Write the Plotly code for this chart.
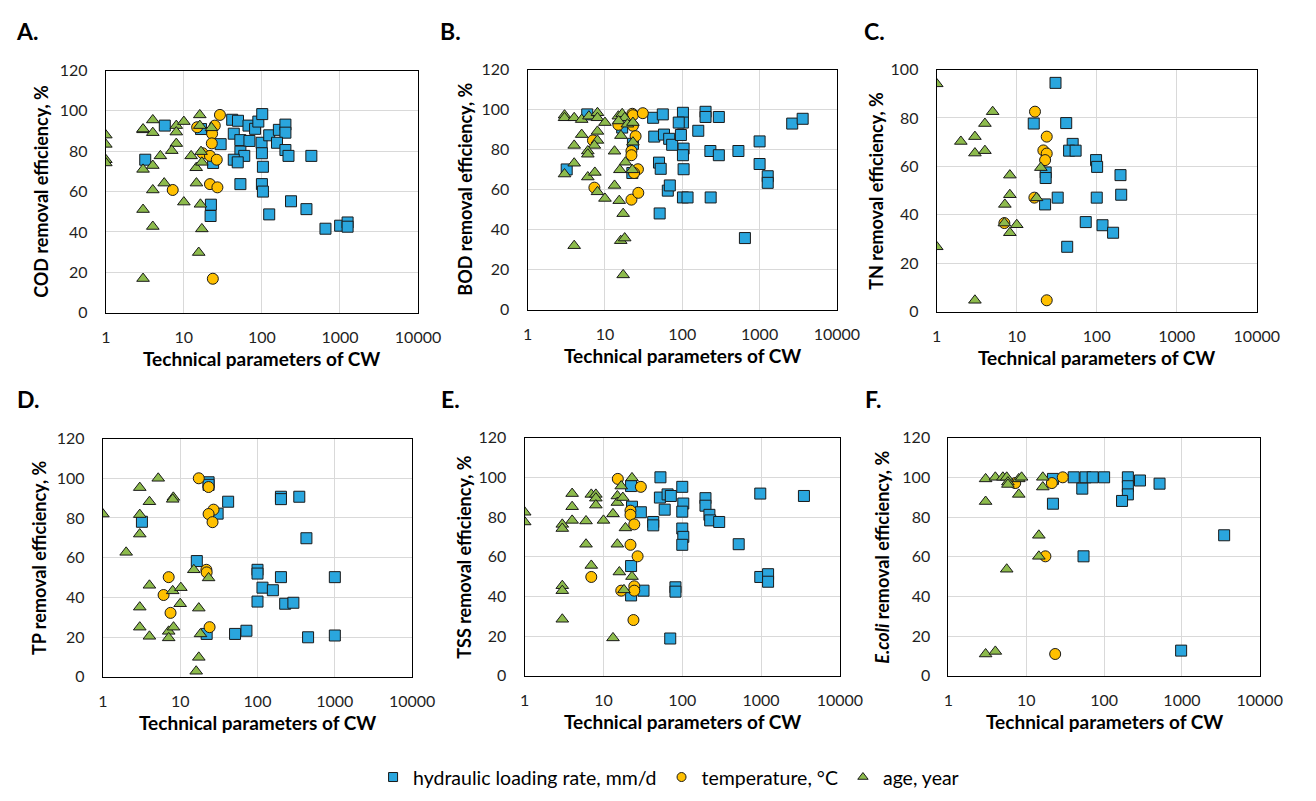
import plotly.graph_objects as go

# ---------------- data ----------------
tick_vals = [1, 10, 100, 1000, 10000]
tick_text = ["1", "10", "100", "1000", "10000"]
series_names = ["hydraulic loading rate, mm/d", "temperature, °C", "age, year"]

# Panel A - COD
A_hlr_x = [5.7, 3.2, 29.6, 23.7, 16.6, 41.6, 49.4, 43.6, 67.3, 81.7, 90, 101, 52.9, 69.2, 99, 53, 59.4, 100, 43.6, 49,
           103, 124, 165, 200, 200, 156, 200, 219, 430, 53, 100, 103, 22.2, 22, 124, 236, 372, 652, 1005, 1253, 1253]
A_hlr_y = [92.7, 75.8, 83.5, 74.2, 91, 95.6, 95.1, 88.7, 92.7, 91.1, 94.7, 98.4, 85.5, 85.1, 84.2, 79.8, 77.7, 79, 75.8, 74.5,
           72.3, 87.9, 90.6, 93.2, 89.2, 84.2, 80.6, 77.7, 77.7, 63.7, 63.7, 60, 53.5, 47.9, 48.7, 55.2, 51.3, 41.6, 43.1, 44.7, 42.6]
A_temp_x = [29, 14.8, 24.9, 23, 22.8, 17.4, 21.6, 26.4, 7.2, 21.6, 26.9, 23.5]
A_temp_y = [98, 91.9, 92.7, 88.7, 83.9, 79, 77.7, 75.8, 60.8, 63.7, 62.1, 16.8]
A_age_x = [1, 1, 1, 1, 3, 3, 4, 4, 3, 4, 5, 8, 8, 10, 8, 7, 16, 16, 12.4, 14.4, 16.6, 17, 22.6,
           5.6, 4, 14.5, 10, 16.3, 3, 4, 17, 15.5, 3]
A_age_y = [88, 83.4, 75.8, 74.2, 90.6, 91, 95.5, 89.2, 71, 72.9, 77.7, 92.7, 89.5, 94.7, 83.8, 80.3, 98, 92.7, 77.7, 71.8, 79.8, 74.5, 91.6,
           64.2, 60.8, 64.2, 54.8, 53.7, 51.1, 42.7, 41.5, 29.8, 16.9]

# Panel B - BOD
B_hlr_x = [3.2, 5.9, 16.7, 23, 22.6, 42, 56, 43.4, 58, 67.7, 74, 102, 102, 90, 96, 104, 102, 50, 52.6, 104,
           161, 200, 200, 297, 231, 297, 532, 1000, 1000, 1274, 1274, 2642, 3606, 65, 69, 102, 117, 233, 51, 646]
B_hlr_y = [70.1, 97.6, 91, 82.9, 68.3, 95.9, 97.6, 86.5, 87.5, 85.4, 82.4, 98.4, 93.5, 93.5, 87.3, 80.5, 77.2, 73.5, 70.4, 70.2,
           89.4, 98.9, 96.3, 96.3, 79.3, 77.2, 79.3, 84.1, 72.8, 66.7, 63.4, 93, 95.4, 59.5, 62.1, 56.1, 56.1, 56.1, 48.1, 35.8]
B_temp_x = [22.6, 23, 30.9, 14.9, 23, 24.9, 7, 22, 22, 26.7, 23.8, 7.3, 22, 27]
B_temp_y = [97.9, 97.2, 98.2, 92.4, 91.9, 86.7, 84.6, 79.3, 77.2, 70.2, 68.3, 61, 55, 58.4]
B_age_x = [3, 3, 4, 5, 6.2, 8, 8, 10, 14.9, 16.7, 18, 15, 19.5, 23, 5, 8, 8, 4, 7.3, 6, 6, 13.3, 16.1, 23,
           4, 3, 6, 7.4, 18.4, 15.6, 22.6, 8, 10, 13.3, 15.3, 17.2, 4, 16, 18, 17.2]
B_age_y = [97.2, 95.9, 95.9, 95, 96.7, 98.4, 95.9, 93.5, 96.7, 97.9, 95.9, 94.3, 92.7, 93.5, 87.5, 89.1, 84.6, 82.1, 82.1, 79.3, 77.7, 79.2, 87, 83.7,
           73.2, 67.8, 66.3, 68.6, 73.7, 69.9, 69.9, 58.9, 55.6, 62.1, 54.5, 48, 32, 34.5, 35.8, 17.4]

# Panel C - TN
C_hlr_x = [30.5, 16.3, 41.5, 50, 45.1, 54.4, 98, 101, 198, 23, 23, 22.6, 32.5, 100, 202, 72.8, 118, 160, 42.7]
C_hlr_y = [94.5, 77.7, 77.9, 69.3, 66.5, 66.5, 62.6, 59.8, 56.4, 57.5, 55.2, 44.3, 47.1, 47.1, 48.3, 37, 35.7, 32.6, 26.8]
C_temp_x = [16.9, 23.7, 21.5, 23.7, 22.6, 16.6, 7, 23.7]
C_temp_y = [82.6, 72.3, 66.6, 65.3, 62.6, 47.1, 36.6, 4.7]
C_age_x = [1, 2, 3, 3, 4, 4, 5, 8.2, 20, 7.1, 8.2, 7, 8.2, 10, 17.7, 1, 3]
C_age_y = [94.1, 70.3, 72.3, 65.5, 77.7, 66.5, 82.6, 56.4, 59.5, 44.3, 48.3, 36.6, 32.6, 35.9, 47, 26.8, 4.7]

# Panel D - TP
D_hlr_x = [3.2, 23.3, 23.3, 30.5, 41.7, 16.4, 22, 51.2, 71.9, 100, 100, 100, 116, 158, 201, 201, 201, 228, 291, 347, 429, 451, 1000, 1000]
D_hlr_y = [78.1, 98, 96.7, 82.2, 88.2, 58.3, 21.6, 21.6, 23.2, 53.9, 52, 37.9, 44.9, 43.6, 90.7, 89.5, 50.2, 36.8, 37.3, 90.7, 69.8, 19.9, 50.2, 20.8]
D_temp_x = [17.4, 23.3, 27, 23.3, 26.2, 21.8, 22, 7.1, 6.1, 7.5, 24]
D_temp_y = [100, 95.6, 84.2, 82, 77.9, 53.9, 52.6, 50.2, 41.2, 32.2, 25]
D_age_x = [1, 2, 3, 3, 3, 3, 3, 4, 4, 4, 5.2, 8.15, 8, 8, 10.2, 10, 7.1, 7.1, 8.2, 15, 23.3, 17.4, 18.3, 17.4, 16.1]
D_age_y = [82, 62.7, 95.3, 81.7, 71.9, 35.1, 25, 88.2, 46.1, 20.4, 100, 90.4, 89.4, 43.3, 44.9, 36.8, 22.9, 19.6, 25, 53.9, 49.8, 34.6, 21.6, 9.8, 2.8]

# Panel E - TSS
E_hlr_x = [22.4, 23, 29.8, 22.4, 22.4, 32.2, 42.8, 42.8, 52.8, 52, 65.1, 71.6, 59.8, 81.9, 82, 70.3, 100, 103, 100, 100,
           103, 100, 197, 197, 221, 226, 294, 520, 977, 977, 1228, 1228, 3500]
E_hlr_y = [95.6, 85.2, 82.4, 55.3, 40.5, 42.9, 77.5, 75.8, 100, 89.8, 91.4, 90.6, 83.7, 44.6, 42.4, 18.8, 95.2, 86.8, 82.7, 74.2,
           70, 66, 89.5, 85.7, 81.1, 78.3, 77.5, 66.3, 91.8, 49.8, 51.2, 47.4, 90.6]
E_temp_x = [15.2, 29.8, 22, 22, 24.6, 22, 27.1, 7, 16.8, 24.6, 24.6, 24]
E_temp_y = [99.2, 95.2, 83.2, 81.1, 76.3, 66, 60.2, 49.8, 42.9, 45.1, 42.9, 28.1]
E_age_x = [1, 1, 3, 3, 4, 4, 4, 6, 6, 7, 8, 8, 8, 7, 10, 13.2, 15, 15, 16.8, 17.6, 23, 19, 15, 15.9, 23, 18.2, 3, 3, 3, 13.2]
E_age_y = [82.4, 77.5, 76.3, 74.2, 91.8, 85.2, 78.3, 78, 66.3, 91.4, 91.4, 89.5, 86, 55.6, 78.3, 81.6, 90.6, 87.3, 95.6, 89.8,
           99.7, 74.5, 66.3, 52.3, 50, 43.3, 45.4, 42.9, 28.5, 19.1]

# Panel F - E.coli
F_hlr_x = [22, 22, 40.7, 57.7, 71.3, 100, 52.4, 54.4, 202, 202, 202, 170, 289, 516, 3490, 977]
F_hlr_y = [99.2, 86.7, 100, 100, 100, 100, 94.3, 60.2, 100, 95.5, 91.4, 88.1, 98.4, 96.8, 70.8, 12.7]
F_temp_x = [7.2, 21.3, 29.4, 17.6, 23.5]
F_temp_y = [97.1, 97.1, 100, 60.2, 11]
F_age_x = [3, 3, 4, 5, 5.6, 5.8, 5.8, 8, 8.7, 8, 16.3, 16.3, 14.5, 14.5, 5.6, 3, 4]
F_age_y = [99.2, 87.8, 100, 100, 100, 97.6, 96.4, 99.2, 100, 91.4, 100, 95.1, 70.8, 60.2, 53.7, 11, 12.3]

panel_letters = ["A.", "B.", "C.", "D.", "E.", "F."]
y_titles = ["COD removal efficiency, %", "BOD removal efficiency, %", "TN removal efficiency, %",
            "TP removal efficiency, %", "TSS removal efficiency, %", "<i>E.coli</i> removal efficiency, %"]
x_title = "Technical parameters of CW"
y_max = [120, 120, 100, 120, 120, 120]

panel_data = [
    (A_hlr_x, A_hlr_y, A_temp_x, A_temp_y, A_age_x, A_age_y),
    (B_hlr_x, B_hlr_y, B_temp_x, B_temp_y, B_age_x, B_age_y),
    (C_hlr_x, C_hlr_y, C_temp_x, C_temp_y, C_age_x, C_age_y),
    (D_hlr_x, D_hlr_y, D_temp_x, D_temp_y, D_age_x, D_age_y),
    (E_hlr_x, E_hlr_y, E_temp_x, E_temp_y, E_age_x, E_age_y),
    (F_hlr_x, F_hlr_y, F_temp_x, F_temp_y, F_age_x, F_age_y),
]

# ---------------- layout geometry (pixels) ----------------
W, H = 1316, 801
# plot areas: (left, right, top, bottom)
areas = [(103, 422, 62, 310), (534, 850, 61, 307), (952, 1279, 61, 309),
         (100, 416, 439, 683), (531, 853, 438, 682), (964, 1282, 438, 682)]
letter_pos = [(9, 21), (442, 21), (876, 21), (10, 398), (443, 398), (877, 398)]
ytitle_x = [36, 470, 890, 34, 469, 896]
xtitle_gap = 47

FONT = "Lato, 'Open Sans', Arial, sans-serif"
BLUE, YELLOW, GREEN = "#2AA6DE", "#FFC000", "#8DBB4C"
styles = [("square", BLUE, 11), ("circle", YELLOW, 11), ("triangle-up", GREEN, 11)]


def px(x):
    return x / W


def py(y):
    return 1 - y / H


fig = go.Figure()
annotations = []
for i, data in enumerate(panel_data):
    k = "" if i == 0 else str(i + 1)
    xa, ya = "x" + k, "y" + k
    for s in range(3):
        sym, col, size = styles[s]
        fig.add_trace(go.Scatter(
            x=data[2 * s], y=data[2 * s + 1], mode="markers", xaxis=xa, yaxis=ya,
            marker=dict(symbol=sym, color=col, size=size, line=dict(color="#1a1a1a", width=1)),
            showlegend=False, name=series_names[s], hoverinfo="x+y"))
    l, r, t, b = areas[i]
    common = dict(showgrid=True, gridcolor="#D9D9D9", gridwidth=1, showline=True, linecolor="black",
                  linewidth=1.2, mirror=True, ticks="", zeroline=False,
                  tickfont=dict(family=FONT, size=16, color="#1f1f1f"))
    fig.layout["xaxis" + k] = dict(domain=[px(l), px(r)], anchor=ya, type="log", range=[0, 4],
                                   tickvals=tick_vals, ticktext=tick_text, ticklabelstandoff=10, **common)
    fig.layout["yaxis" + k] = dict(domain=[py(b), py(t)], anchor=xa, range=[0, y_max[i]], dtick=20,
                                   ticklabelstandoff=14, **common)
    lx, ly = letter_pos[i]
    annotations.append(dict(text="<b>" + panel_letters[i] + "</b>", x=px(lx), y=py(ly), xref="paper", yref="paper",
                            xanchor="left", yanchor="middle", showarrow=False,
                            font=dict(family=FONT, size=23, color="black")))
    annotations.append(dict(text="<b>" + y_titles[i] + "</b>", x=px(ytitle_x[i]), y=py((t + b) / 2),
                            xref="paper", yref="paper", xanchor="center", yanchor="middle", textangle=-90,
                            showarrow=False, font=dict(family=FONT, size=18, color="black")))
    annotations.append(dict(text="<b>" + x_title + "</b>", x=px((l + r) / 2), y=py(b + xtitle_gap),
                            xref="paper", yref="paper", xanchor="center", yanchor="middle",
                            showarrow=False, font=dict(family=FONT, size=19, color="black")))

# legend entries
for s in range(3):
    sym, col, size = styles[s]
    fig.add_trace(go.Scatter(x=[None], y=[None], mode="markers", name=series_names[s],
                             marker=dict(symbol=sym, color=col, size=9, line=dict(color="#1a1a1a", width=1)),
                             showlegend=True))

fig.update_layout(
    width=W, height=H, margin=dict(l=0, r=0, t=0, b=0),
    paper_bgcolor="white", plot_bgcolor="white",
    font=dict(family=FONT, size=18, color="black"),
    annotations=annotations,
    legend=dict(orientation="h", x=px(678), y=py(786), xanchor="center", yanchor="middle",
                font=dict(family=FONT, size=19.5, color="black"), itemwidth=30, bgcolor="rgba(0,0,0,0)"),
)

fig.write_html("out.html", config={"displayModeBar": False},
               post_script="document.body.style.margin='0px';document.body.style.overflow='hidden';")
